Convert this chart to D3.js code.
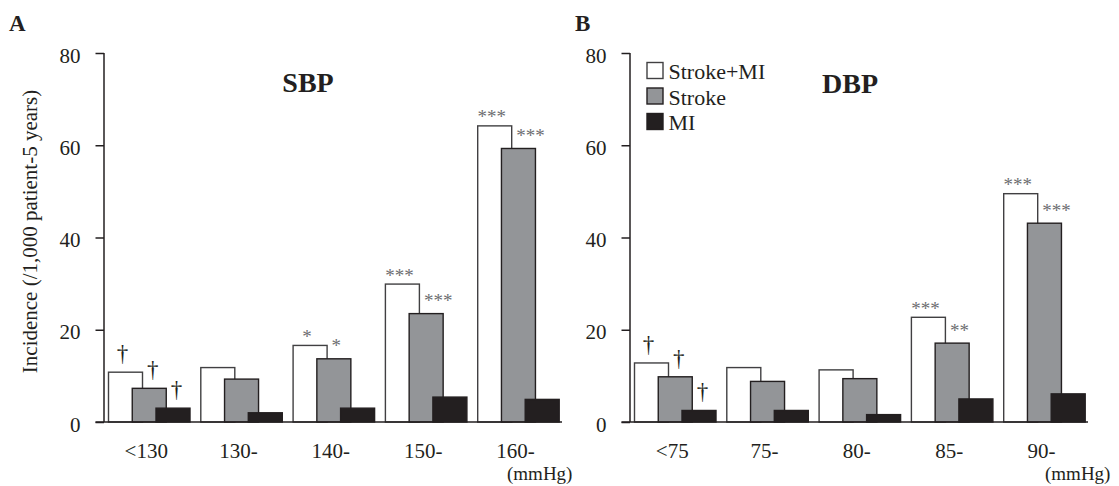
<!DOCTYPE html>
<html>
<head>
<meta charset="utf-8">
<script src="https://cdn.jsdelivr.net/npm/d3@7"></script>
<style>
  body { margin: 0; background: #fff; }
  text { font-family: "Liberation Serif", "Times New Roman", serif; fill: #231f20; }
</style>
</head>
<body>
<script>
// Dimensions de la page
var width = 1119, height = 486;

// Données (incidence /1 000 patients-5 ans)
var series = ["Stroke+MI", "Stroke", "MI"];
var yTicks = [0, 20, 40, 60, 80];

var sbpCategories = ["<130", "130-", "140-", "150-", "160-"];
var sbpStrokeMI = [10.8, 11.8, 16.6, 29.9, 64.2];
var sbpStroke   = [7.3, 9.3, 13.7, 23.5, 59.3];
var sbpMI       = [3.0, 2.0, 3.0, 5.4, 4.9];
var sbpSigStrokeMI = ["†", "", "*", "***", "***"];
var sbpSigStroke   = ["†", "", "*", "***", "***"];
var sbpSigMI       = ["†", "", "", "", ""];

var dbpCategories = ["<75", "75-", "80-", "85-", "90-"];
var dbpStrokeMI = [12.8, 11.8, 11.3, 22.7, 49.5];
var dbpStroke   = [9.8, 8.8, 9.4, 17.1, 43.1];
var dbpMI       = [2.5, 2.5, 1.6, 5.0, 6.1];
var dbpSigStrokeMI = ["†", "", "", "***", "***"];
var dbpSigStroke   = ["†", "", "", "**", "***"];
var dbpSigMI       = ["†", "", "", "", ""];

// Styles des séries
var fills   = {"Stroke+MI": "#ffffff", "Stroke": "#939598", "MI": "#231f20"};
var strokes = {"Stroke+MI": "#414042", "Stroke": "#231f20", "MI": "#231f20"};

var barW = 34;

// Échelle verticale commune aux deux panneaux
var y = d3.scaleLinear().domain([0, 80]).range([422, 53]);

// Dessine un panneau (axe, barres, astérisques)
function panneau(svg, p) {
    var g = svg.append("g");

    var x = d3.scaleBand()
        .domain(p.categories)
        .range([p.left, p.left + 461.5])
        .padding(0);

    var inner = d3.scalePoint()
        .domain(series)
        .range([4.5, 52]);

    // Axe y
    var yAxis = d3.axisLeft(y).tickValues(yTicks).tickSize(8.5).tickSizeOuter(0).tickPadding(15);
    var ga = g.append("g")
        .attr("transform", `translate(${p.left},0)`)
        .call(yAxis);
    ga.select(".domain").attr("stroke", "#231f20").attr("stroke-width", 1.5)
        .attr("d", `M0,${y(0)}V${y(80)}`);
    ga.selectAll(".tick line").attr("stroke", "#231f20").attr("stroke-width", 1.5);
    ga.selectAll(".tick text")
        .attr("font-size", 21)
        .attr("dy", "0.43em")
        .style("font-family", "Liberation Serif, serif")
        .attr("fill", "#231f20");

    // Barres
    var rows = p.categories.map((c, i) => ({cat: c, vals: p.values.map(v => v[i]), sig: p.sig.map(s => s[i])}));

    series.forEach(function (s, k) {
        g.selectAll(null)
            .data(rows)
            .enter()
            .append("rect")
            .attr("x", d => x(d.cat) + inner(s))
            .attr("y", d => y(d.vals[k]))
            .attr("width", barW)
            .attr("height", d => y(0) - y(d.vals[k]))
            .attr("fill", fills[s])
            .attr("stroke", strokes[s])
            .attr("stroke-width", 1.4);
    });

    // Axe x (ligne de base)
    g.append("line")
        .attr("x1", p.left - 8.5)
        .attr("x2", p.left + 458)
        .attr("y1", y(0))
        .attr("y2", y(0))
        .attr("stroke", "#231f20")
        .attr("stroke-width", 1.5);

    // Étiquettes des catégories
    g.selectAll(null)
        .data(p.categories)
        .enter()
        .append("text")
        .attr("x", d => x(d) + inner("Stroke") + barW / 2 - 3)
        .attr("y", 458)
        .attr("text-anchor", "middle")
        .attr("font-size", 21)
        .text(d => d);

    g.append("text")
        .attr("x", p.unitX)
        .attr("y", 480)
        .attr("font-size", 19)
        .text("(mmHg)");

    // Significativité
    series.forEach(function (s, k) {
        g.selectAll(null)
            .data(rows.filter(d => d.sig[k] !== ""))
            .enter()
            .append("text")
            .attr("x", function (d) {
                if (k === 0) return x(d.cat) + inner(s) + barW / 2 - 3;
                return x(d.cat) + inner(series[k - 1]) + barW + 4.5;
            })
            .attr("y", function (d) {
                var top = y(d.vals[k]);
                if (d.sig[k] === "†") return top - 11;
                return k === 0 ? top - 2.5 : top - 6.5;
            })
            .attr("text-anchor", k === 0 ? "middle" : "start")
            .attr("font-size", d => d.sig[k] === "†" ? 23 : 19)
            .attr("fill", d => d.sig[k] === "†" ? "#231f20" : "#6d6e71")
            .style("fill", d => d.sig[k] === "†" ? "#231f20" : "#6d6e71")
            .text(d => d.sig[k]);
    });

    // Titre du panneau
    g.append("text")
        .attr("x", p.titleX)
        .attr("y", p.titleY)
        .attr("text-anchor", "middle")
        .attr("font-size", 28)
        .attr("font-weight", "bold")
        .text(p.title);

    g.append("text")
        .attr("x", p.letterX)
        .attr("y", 30.5)
        .attr("font-size", 23)
        .attr("font-weight", "bold")
        .text(p.letter);
}

function myfct() {
    var svg = d3.select("body")
        .append("svg")
        .attr("width", width)
        .attr("height", height);

    panneau(svg, {
        left: 104, categories: sbpCategories,
        values: [sbpStrokeMI, sbpStroke, sbpMI],
        sig: [sbpSigStrokeMI, sbpSigStroke, sbpSigMI],
        title: "SBP", titleX: 308, titleY: 91.5,
        letter: "A", letterX: 9, unitX: 507
    });

    panneau(svg, {
        left: 630, categories: dbpCategories,
        values: [dbpStrokeMI, dbpStroke, dbpMI],
        sig: [dbpSigStrokeMI, dbpSigStroke, dbpSigMI],
        title: "DBP", titleX: 850, titleY: 93,
        letter: "B", letterX: 575, unitX: 1045
    });

    // Titre de l'axe y
    svg.append("text")
        .attr("transform", "translate(37,231.5) rotate(-90)")
        .attr("text-anchor", "middle")
        .attr("font-size", 21)
        .text("Incidence (/1,000 patient-5 years)");

    // Légende
    var leg = svg.append("g").attr("transform", "translate(647,62.5)");
    var item = leg.selectAll(null)
        .data(series)
        .enter()
        .append("g")
        .attr("transform", (d, i) => `translate(0,${i * 25.5})`);
    item.append("rect")
        .attr("width", 16)
        .attr("height", 16)
        .attr("fill", d => fills[d])
        .attr("stroke", d => strokes[d])
        .attr("stroke-width", 1.4);
    item.append("text")
        .attr("x", 21.5)
        .attr("y", 16.5)
        .attr("font-size", 22)
        .text(d => d);
}

d3.select(window).on("load", myfct);
</script>
</body>
</html>
